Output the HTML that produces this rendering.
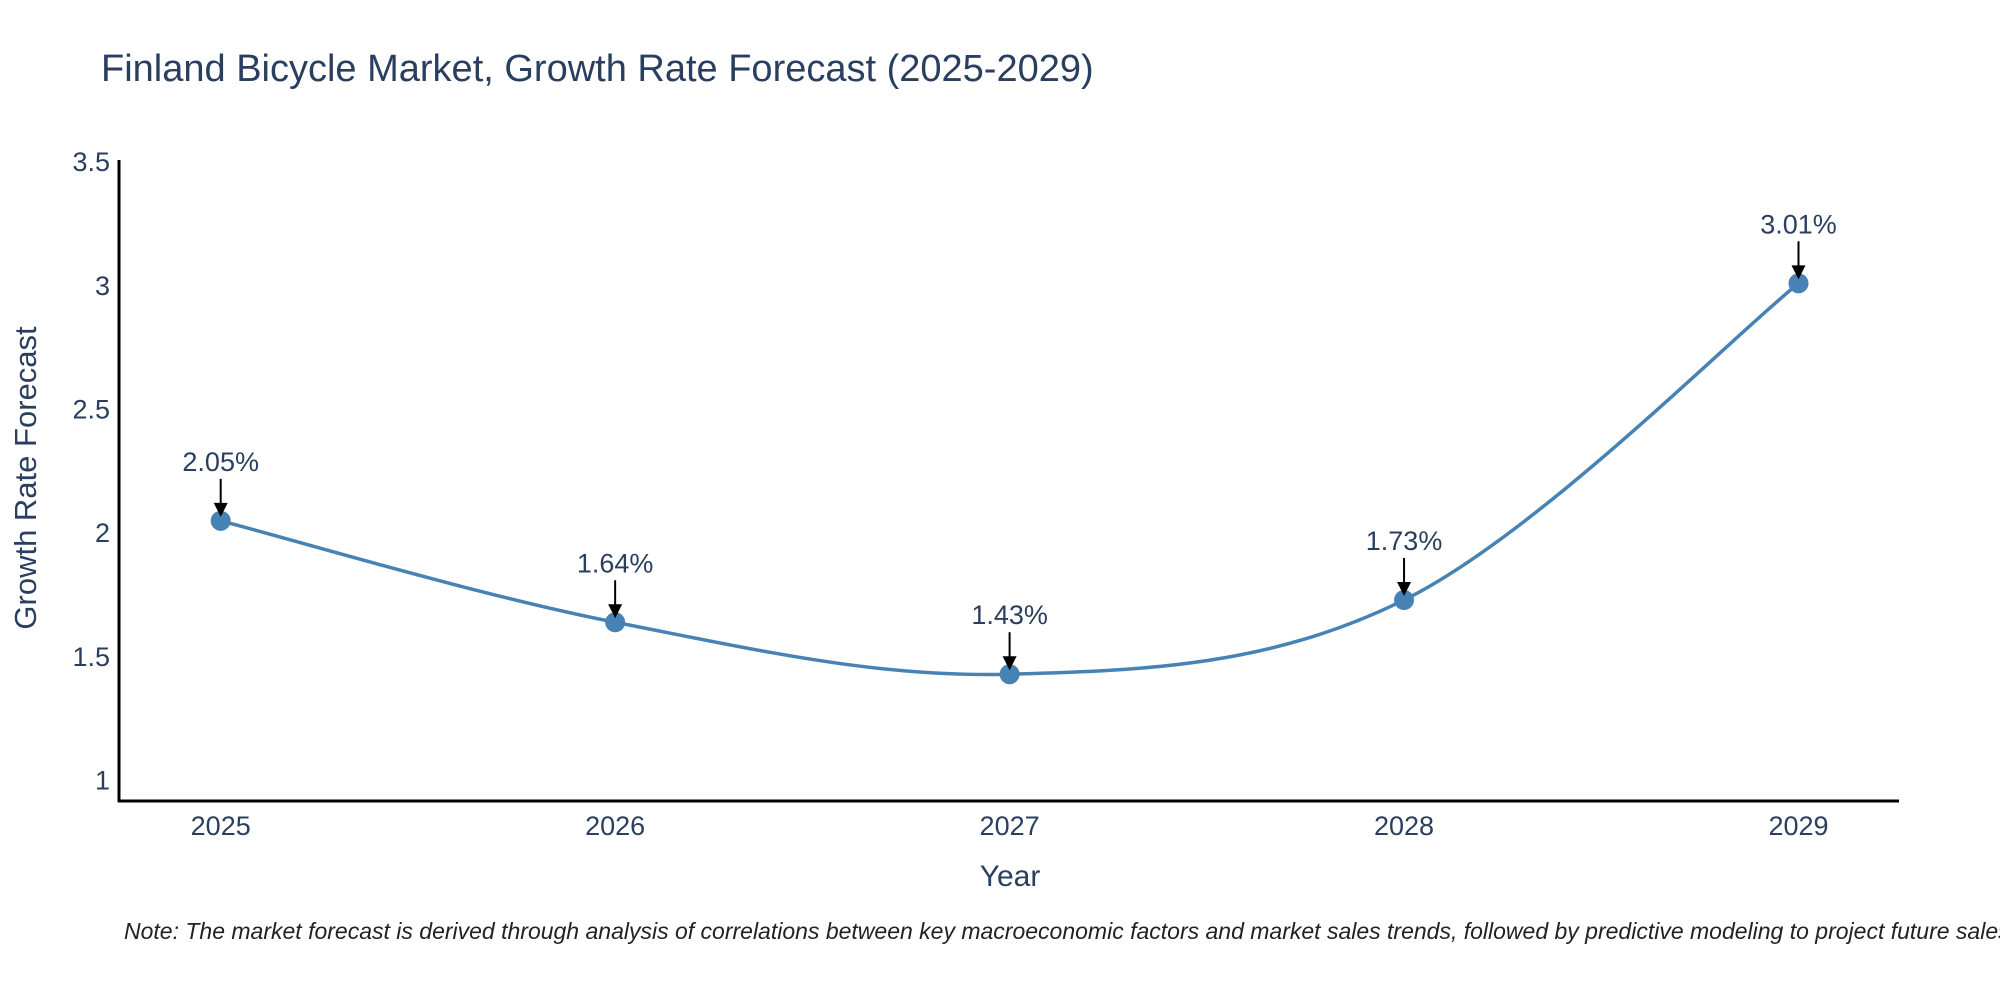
<!DOCTYPE html>
<html><head><meta charset="utf-8"><style>
html,body{margin:0;padding:0;background:#fff;overflow:hidden;}
svg{display:block;font-family:"Liberation Sans",sans-serif;}
</style></head><body>
<svg id="chart" width="2000" height="1000">
<text x="101" y="81" font-size="38" fill="#2a3f5f">Finland Bicycle Market, Growth Rate Forecast (2025-2029)</text>
<g id="yticks"></g>
<g id="xticks"></g>
<line x1="119" y1="160" x2="119" y2="802" stroke="#000" stroke-width="3"/>
<line x1="118" y1="801" x2="1899" y2="801" stroke="#000" stroke-width="3"/>
<text transform="translate(36,478) rotate(-90)" text-anchor="middle" font-size="31" fill="#2a3f5f">Growth Rate Forecast</text>
<text x="1010" y="886" text-anchor="middle" font-size="30" fill="#2a3f5f">Year</text>
<g id="series"></g>
<text x="124" y="939" font-size="23" font-style="italic" fill="#222">Note: The market forecast is derived through analysis of correlations between key macroeconomic factors and market sales trends, followed by predictive modeling to project future sales.</text>
</svg>
<script>
const years = [2025, 2026, 2027, 2028, 2029];
const values = [2.05, 1.64, 1.43, 1.73, 3.01];
const yTickLabels = ["1", "1.5", "2", "2.5", "3", "3.5"];
const yTickValues = [1, 1.5, 2, 2.5, 3, 3.5];

const NS = "http://www.w3.org/2000/svg";
function xScale(v){ return 220.7 + (v - 2025) * 394.45; }
function yScale(v){ return 780.6 - (v - 1) * 247.4; }
function mk(tag, attrs, parent){ const e = document.createElementNS(NS, tag); for (const k in attrs) e.setAttribute(k, attrs[k]); parent.appendChild(e); return e; }

const yg = document.getElementById('yticks');
yTickValues.forEach((v, i) => {
  const t = mk('text', {x: 110, y: yScale(v) + 9, 'text-anchor': 'end', 'font-size': 27, fill: '#2a3f5f'}, yg);
  
  
  t.textContent = yTickLabels[i];
});
const xg = document.getElementById('xticks');
years.forEach(y => {
  const t = mk('text', {x: xScale(y), y: 835, 'text-anchor': 'middle', 'font-size': 27, fill: '#2a3f5f'}, xg);
  
  
  t.textContent = String(y);
});

const sg = document.getElementById('series');
const pts = years.map((y, i) => [xScale(y), yScale(values[i])]);
let d = `M${pts[0][0]},${pts[0][1]}`;
const tension = 0.17;
for (let i = 0; i < pts.length - 1; i++) {
  const p0 = pts[Math.max(0, i - 1)], p1 = pts[i], p2 = pts[i + 1], p3 = pts[Math.min(pts.length - 1, i + 2)];
  const c1 = [p1[0] + (p2[0] - p0[0]) * tension, p1[1] + (p2[1] - p0[1]) * tension];
  const c2 = [p2[0] - (p3[0] - p1[0]) * tension, p2[1] - (p3[1] - p1[1]) * tension];
  d += ` C${c1[0]},${c1[1]} ${c2[0]},${c2[1]} ${p2[0]},${p2[1]}`;
}
const line = mk('path', {d: d, fill: 'none', stroke: '#4682b4', 'stroke-width': 3.5}, sg);



pts.forEach((p, i) => {
  const c = mk('circle', {cx: p[0], cy: p[1], r: 10, fill: '#4682b4'}, sg);
  
  
  const a = mk('line', {x1: p[0], y1: p[1] - 42, x2: p[0], y2: p[1] - 16, stroke: '#000', 'stroke-width': 2}, sg);
  
  
  const h = mk('polygon', {points: `${p[0]-7},${p[1]-18} ${p[0]+7},${p[1]-18} ${p[0]},${p[1]-4}`, fill: '#000'}, sg);
  
  
  const t = mk('text', {x: p[0], y: p[1] - 50, 'text-anchor': 'middle', 'font-size': 27, fill: '#2a3f5f'}, sg);
  
  
  t.textContent = values[i].toFixed(2) + '%';
});
</script>
</body></html>
